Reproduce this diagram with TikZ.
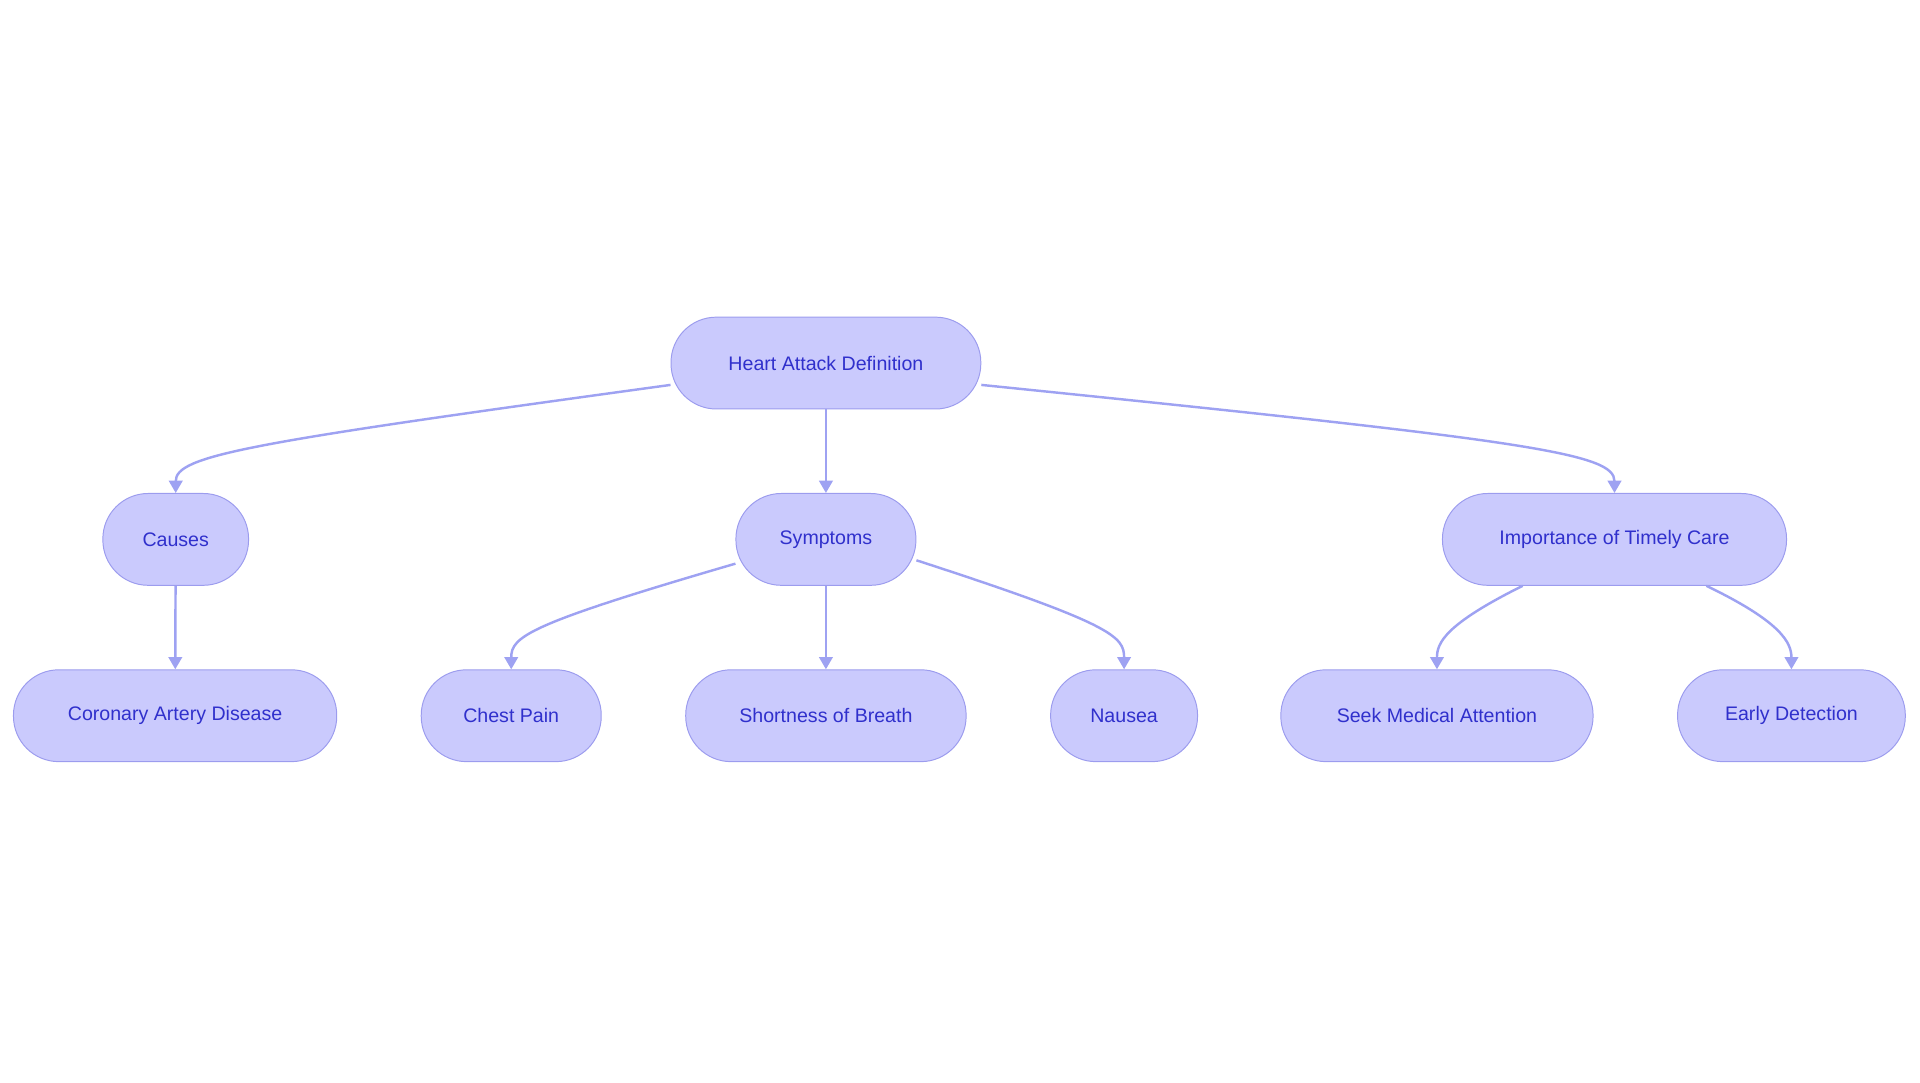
\documentclass[tikz,border=0pt]{standalone}
\usepackage{fontspec}
\setmainfont{Liberation Sans}
\usetikzlibrary{arrows.meta,calc}
\definecolor{nfill}{HTML}{CACAFD}
\definecolor{nline}{HTML}{9C9CEE}
\definecolor{ntext}{HTML}{3030CC}
\definecolor{eline}{HTML}{9EA2F2}
\begin{document}
\begin{tikzpicture}[x=1pt,y=-1pt,
  box/.style={draw=nline,fill=nfill,text=ntext,line width=0.8pt,rounded corners=37pt,minimum height=75pt,inner sep=0pt,font=\fontsize{16}{18}\selectfont},
  edge/.style={draw=eline,line width=2pt,-{Triangle[width=11pt,length=10pt]}}]
\useasboundingbox (0,0) rectangle (1568,884);
\node[box,minimum width=253pt] (heart) at (674.5,296.5) {Heart Attack Definition};
\node[box,minimum width=119pt] (causes) at (143.5,440.5) {Causes};
\node[box,minimum width=147pt] (sym) at (674.5,440.5) {Symptoms};
\node[box,minimum width=281pt] (imp) at (1318.5,440.5) {Importance of Timely Care};
\node[box,minimum width=264pt] (cad) at (143,584.5) {Coronary Artery Disease};
\node[box,minimum width=147pt] (chest) at (417.5,584.5) {Chest Pain};
\node[box,minimum width=229pt] (sob) at (674.5,584.5) {Shortness of Breath};
\node[box,minimum width=120pt] (nau) at (918,584.5) {Nausea};
\node[box,minimum width=255pt] (seek) at (1173.5,584.5) {Seek Medical Attention};
\node[box,minimum width=186pt] (early) at (1463,584.5) {Early Detection};
\draw[edge] (heart.188) .. controls (200,362) and (143.5,372) .. (causes.north);
\draw[edge] (heart) -- (sym);
\draw[edge] (heart.-8) .. controls (1250,360) and (1318.5,370) .. (imp.north);
\draw[edge] (causes) -- (cad);
\draw[edge] (sym.195) .. controls (430,510) and (417.5,520) .. (chest.north);
\draw[edge] (sym.-13) .. controls (910,510) and (918,520) .. (nau.north);
\draw[edge] (sym) -- (sob);
\draw[edge] ($(imp.south)+(-75,0)$) .. controls (1180,510) and (1173.5,525) .. (seek.north);
\draw[edge] ($(imp.south)+(75,0)$) .. controls (1455,508) and (1463,525) .. (early.north);
\end{tikzpicture}
\end{document}
